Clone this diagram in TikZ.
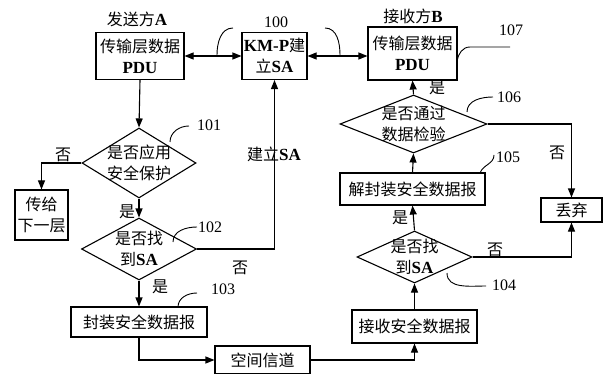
\documentclass[tikz,border=0pt]{standalone}
\usepackage{fontspec}
\setmainfont{Liberation Serif}
\newfontfamily\cjk{Noto Sans CJK SC}
\usetikzlibrary{shapes.geometric,arrows.meta}
\newcommand\LT[1]{{\rmfamily\bfseries\fontsize{17}{21}\selectfont #1}}
\begin{document}
\begin{tikzpicture}[x=1pt,y=-1pt,
  line width=1.1pt,
  every node/.style={font=\cjk\fontsize{16}{21}\selectfont, align=center, inner sep=0pt},
  box/.style={draw, rectangle},
  dia/.style={draw, diamond},
  arr/.style={-{Triangle[length=9pt,width=7pt]}},
  darr/.style={{Triangle[length=9pt,width=7pt]}-{Triangle[length=9pt,width=7pt]}},
  lead/.style={line width=0.9pt},
  num/.style={font=\rmfamily\fontsize{16}{16}\selectfont}
]
\useasboundingbox (0,0) rectangle (607,374);
% boxes
\node[box, minimum width=88pt, minimum height=47pt] (A) at (140,56) {传输层数据\\\LT{PDU}};
\node (At) at (137,19) {发送方\LT{A}};
\node[box, minimum width=65pt, minimum height=47pt] (K) at (274.5,56) {\LT{KM-P}建\\立\LT{SA}};
\node[num] (K0) at (276,22) {100};
\node[box, minimum width=89pt, minimum height=53pt] (B) at (412.5,53.5) {传输层数据\\\LT{PDU}};
\node (Bt) at (413,16) {接收方\LT{B}};
\node[num] (B0) at (511,30) {107};
% diamonds
\node[dia, minimum width=114pt, minimum height=70pt] (D1) at (139,163) {};
\node (D1t) at (D1) {是否应用\\安全保护};
\node[num] (D10) at (209,125) {101};
\node[box, minimum width=53pt, minimum height=50pt] (L) at (41.5,215) {传给\\下一层};
\node[dia, minimum width=115pt, minimum height=62pt] (D2) at (139,249) {};
\node (D2t) at (D2) {是否找\\到\LT{SA}};
\node[num] (D20) at (210,227) {102};
\node[box, minimum width=136pt, minimum height=30pt] (E) at (139,322) {封装安全数据报};
\node[num] (E0) at (223,289) {103};
\node[box, minimum width=95pt, minimum height=28pt] (S) at (262.5,360) {空间信道};
\node[box, minimum width=125pt, minimum height=33pt] (R) at (414.5,326.5) {接收安全数据报};
\node[dia, minimum width=115pt, minimum height=52pt] (D4) at (414.5,257) {};
\node (D4t) at (D4) {是否找\\到\LT{SA}};
\node[num] (D40) at (504,285) {104};
\node[box, minimum width=145pt, minimum height=32pt] (U) at (412.5,189) {解封装安全数据报};
\node[num] (U0) at (508,157) {105};
\node[dia, minimum width=147pt, minimum height=58pt] (D6) at (413.5,124) {};
\node (D6t) at (D6) {是否通过\\数据检验};
\node[num] (D60) at (509,97) {106};
\node[box, minimum width=61pt, minimum height=24pt] (X) at (571.5,210) {丢弃};
% connectors
\draw[darr] (A.east) -- (K.west);
\draw[darr] (K.east) -- (K.east -| B.west);
\draw[arr] (A.south) -- (D1.north);
\draw[arr] (D1.west) -| (L.north);
\draw[arr] (D1.south) -- (D2.north);
\draw[arr] (D2.east) -| (K.south);
\draw[arr] (D2.south) -- (E.north);
\draw[arr] (E.south) |- (S.west);
\draw[arr] (S.east) -| (R.south);
\draw[arr] (R.north) -- (D4.south);
\draw[arr] (D4.east) -| (X.south);
\draw[arr] (D4.north) -- (U.south);
\draw[arr] (U.north) -- (D6.south);
\draw[arr] (D6.east) -| (X.north);
\draw[arr] (D6.north) -- (B.south);
% branch labels
\node (n1) at (63,155) {否};
\node (y1) at (127,212) {是};
\node (sa) at (274,154) {建立\LT{SA}};
\node (n2) at (240,268) {否};
\node (y2) at (160,287) {是};
\node (n4) at (495,250) {否};
\node (y4) at (400,218) {是};
\node (n6) at (557,153) {否};
\node (y6) at (437,88) {是};
% leaders
\coordinate (k1) at (217,55); \coordinate (k2) at (233,28);
\coordinate (k3) at (340,55); \coordinate (k4) at (325,28);
\draw[lead] (k1) to[out=90,in=180] (k2);
\draw[lead] (k3) to[out=90,in=0] (k4);
\coordinate (b1) at (457,61); \coordinate (b2) at (510,47);
\draw[lead] (b1) to[out=80,in=180] (470,47) -- (b2);
\coordinate (a1) at (170,142); \coordinate (a2) at (189,126);
\draw[lead] (a1) to[out=90,in=180] (a2);
\coordinate (c1) at (173,242); \coordinate (c2) at (197,227);
\draw[lead] (c1) to[out=90,in=180] (c2);
\coordinate (e1) at (178,307); \coordinate (e2) at (197,293);
\draw[lead] (e1) to[out=90,in=180] (e2);
\coordinate (f1) at (447,273); \coordinate (f2) at (486,286);
\draw[lead] (f1) to[out=-90,in=180] (f2);
\coordinate (u1) at (480,173); \coordinate (u2) at (494,155);
\draw[lead] (u1) to[out=70,in=-90] (u2);
\coordinate (g1) at (467,112); \coordinate (g2) at (493,97);
\draw[lead] (g1) to[out=90,in=180] (g2);
\end{tikzpicture}
\end{document}
